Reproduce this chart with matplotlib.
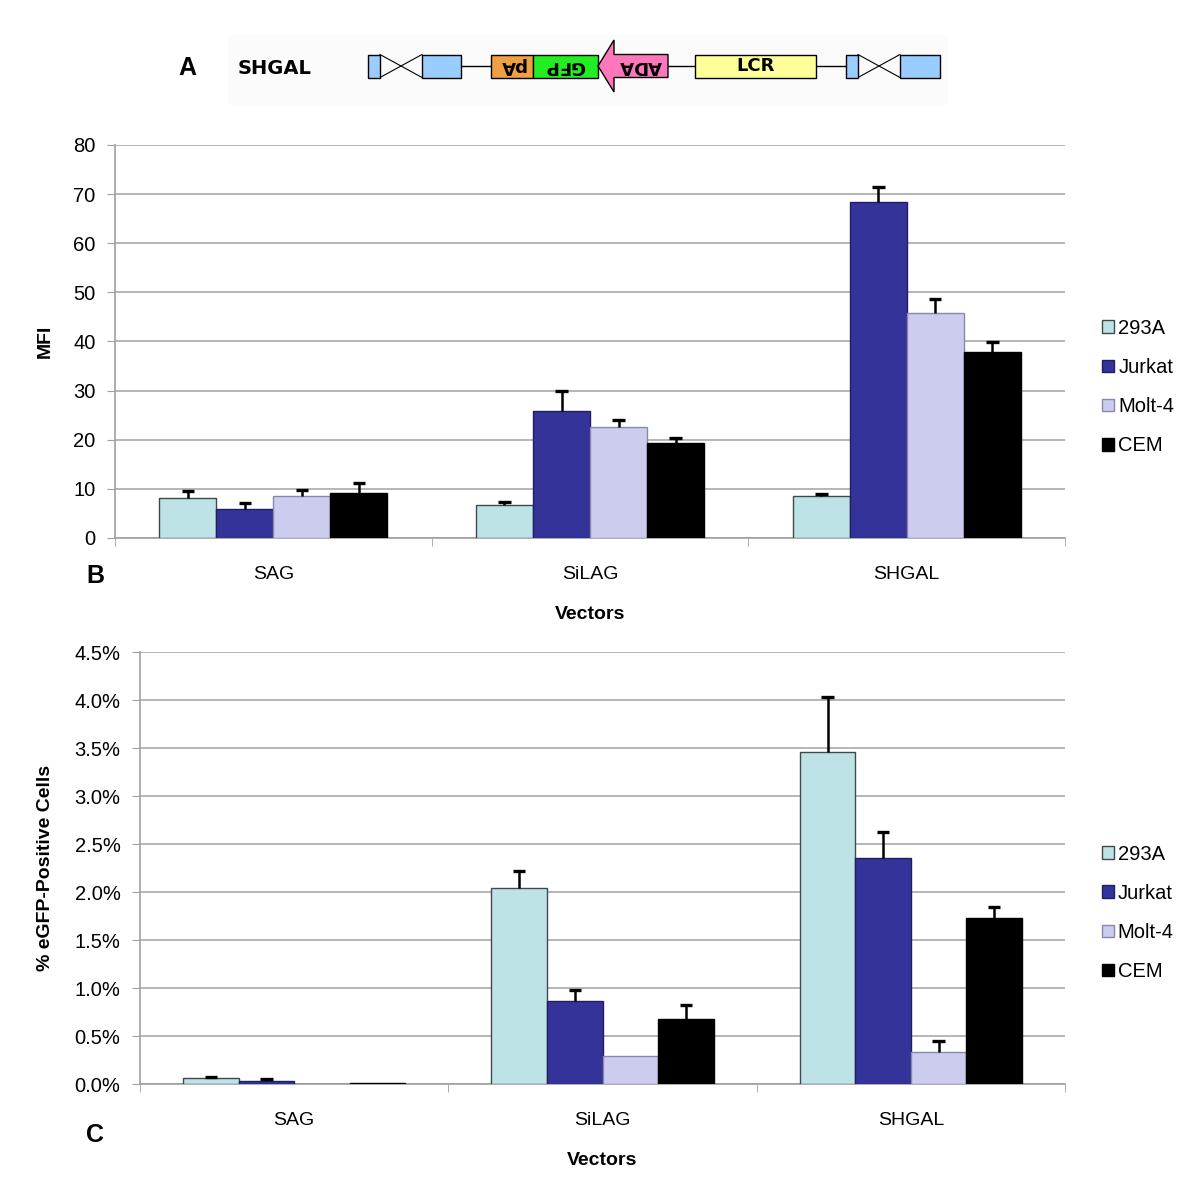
import matplotlib
matplotlib.use("Agg")
import matplotlib.pyplot as plt
import numpy as np
from matplotlib.patches import Rectangle, Polygon
from matplotlib.ticker import FixedLocator, PercentFormatter

plt.rcParams['font.family'] = ['Liberation Sans', 'DejaVu Sans']

vectors = ["SAG", "SiLAG", "SHGAL"]
cells = ["293A", "Jurkat", "Molt-4", "CEM"]
colors = ["#BDE3E6", "#333399", "#CCCCEE", "#000000"]
edges = ["#404848", "#202060", "#8888AA", "#000000"]

# Panel B: MFI (mean) and error (upper)
mfi = {
    "293A":   [8.1, 6.7, 8.6],
    "Jurkat": [5.9, 25.9, 68.4],
    "Molt-4": [8.5, 22.6, 45.8],
    "CEM":    [9.2, 19.3, 37.9],
}
mfi_err = {
    "293A":   [1.5, 0.6, 0.4],
    "Jurkat": [1.2, 4.0, 3.1],
    "Molt-4": [1.3, 1.4, 2.9],
    "CEM":    [2.0, 1.1, 2.0],
}
# Panel C: % eGFP positive (fraction)
pct = {
    "293A":   [0.0006, 0.0204, 0.0346],
    "Jurkat": [0.0003, 0.0086, 0.0235],
    "Molt-4": [0.0000, 0.0029, 0.0033],
    "CEM":    [0.0001, 0.0068, 0.0173],
}
pct_err = {
    "293A":   [0.0001, 0.0018, 0.0057],
    "Jurkat": [0.0002, 0.0012, 0.0027],
    "Molt-4": [0.0000, 0.0000, 0.0012],
    "CEM":    [0.0000, 0.0014, 0.0011],
}

fig = plt.figure(figsize=(12, 12), dpi=100)
fig.patch.set_facecolor("white")

def bar_panel(ax, vals, errs, ylim, yticks, ylabel, ylabelpad, fmt=None):
    x = np.arange(len(vectors))
    w = 0.18
    for i, c in enumerate(cells):
        pos = x + (i - 1.5) * w
        ax.bar(pos, vals[c], width=w, color=colors[i], edgecolor=edges[i],
               linewidth=1.0, zorder=3, label=c)
        v = np.array(vals[c]); e = np.array(errs[c])
        m = e > 0
        ax.vlines(pos[m], v[m], v[m] + e[m], color="black", linewidth=1.8, zorder=4)
        ax.hlines(v[m] + e[m], pos[m] - 0.02, pos[m] + 0.02, color="black", linewidth=2.4, zorder=4)
    ax.set_xlim(-0.5, len(vectors) - 0.5)
    ax.set_ylim(*ylim)
    ax.set_yticks(yticks)
    if fmt is not None:
        ax.yaxis.set_major_formatter(fmt)
    ax.yaxis.grid(True, color="#B0B0B0", linewidth=1.3, zorder=0)
    ax.set_axisbelow(True)
    for s in ["top", "right"]:
        ax.spines[s].set_visible(False)
    ax.spines["left"].set_color("#A0A0A0")
    ax.spines["bottom"].set_color("#A0A0A0")
    ax.spines["left"].set_linewidth(1.2)
    ax.spines["bottom"].set_linewidth(1.2)
    ax.set_xticks(x)
    ax.set_xticklabels(vectors, fontsize=14)
    ax.tick_params(axis="x", length=0, pad=20)
    ax.xaxis.set_minor_locator(FixedLocator([-0.5, 0.5, 1.5, 2.5]))
    ax.tick_params(axis="x", which="minor", length=6, color="#A0A0A0")
    ax.tick_params(axis="y", length=6, color="#A0A0A0", labelsize=14.5, pad=8)
    ax.set_xlabel("Vectors", fontsize=14, fontweight="bold", labelpad=17)
    ax.set_ylabel(ylabel, fontsize=14, fontweight="bold", labelpad=ylabelpad)
    return ax

axB = fig.add_axes([115/1200, 1-538/1200, (1065-115)/1200, (538-145)/1200])
bar_panel(axB, mfi, mfi_err, (0, 80), np.arange(0, 81, 10), "MFI", 14)
axB.legend(loc="center left", bbox_to_anchor=(1.02, 0.384), frameon=False,
           fontsize=14.5, handlelength=0.6, handleheight=0.6, handletextpad=0.2,
           labelspacing=1.0)

axC = fig.add_axes([140/1200, 1-1084/1200, (1065-140)/1200, (1084-652)/1200])
bar_panel(axC, pct, pct_err, (0, 0.045), np.arange(0, 0.0451, 0.005),
          "% eGFP-Positive Cells", 15, fmt=PercentFormatter(1.0, decimals=1))
axC.legend(loc="center left", bbox_to_anchor=(1.02, 0.396), frameon=False,
           fontsize=14.5, handlelength=0.6, handleheight=0.6, handletextpad=0.2,
           labelspacing=1.0)

fig.text(95/1200, 1-576/1200, "B", fontsize=18, fontweight="bold", ha="center", va="center")
fig.text(95/1200, 1-1135/1200, "C", fontsize=18, fontweight="bold", ha="center", va="center")

# Panel A: schematic
axA = fig.add_axes([0, 1-115/1200, 1, 115/1200])
axA.set_xlim(0, 1200)
axA.set_ylim(115, 0)
axA.axis("off")
axA.add_patch(Rectangle((228, 35), 720, 70, facecolor="#FBFBFB", edgecolor="none", zorder=0))
axA.text(187, 68, "A", fontsize=18, fontweight="bold", ha="center", va="center")
axA.text(275, 68, "SHGAL", fontsize=14, fontweight="bold", ha="center", va="center",
         family=["DejaVu Sans Condensed", "DejaVu Sans"])
yc = 66
h = 23
def box(x0, x1, fc, txt=None, rot=0):
    axA.add_patch(Rectangle((x0, yc - h/2), x1 - x0, h, facecolor=fc, edgecolor="black", linewidth=1.0, zorder=3))
    if txt:
        axA.text((x0 + x1)/2, yc, txt, fontsize=13, fontweight="bold", ha="center", va="center",
                 rotation=rot, zorder=4, family=["DejaVu Sans Condensed", "DejaVu Sans"])
def line(x0, x1):
    axA.plot([x0, x1], [yc, yc], color="black", linewidth=1.0, zorder=2)
def ltr(x0, x1, x2, x3):
    box(x0, x1, "#99CCFF")
    axA.plot([x1, x2], [yc - h/2, yc + h/2], color="black", linewidth=0.8, zorder=2)
    axA.plot([x1, x2], [yc + h/2, yc - h/2], color="black", linewidth=0.8, zorder=2)
    box(x2, x3, "#99CCFF")
ltr(368, 380, 422, 461)
line(461, 491)
box(491, 533, "#F0A040", "pA", rot=180)
box(533, 598, "#22EE22", "GFP", rot=180)
axA.add_patch(Polygon([(598, yc), (614, yc - 26), (614, yc - h/2), (668, yc - h/2),
                       (668, yc + h/2), (614, yc + h/2), (614, yc + 26)],
                      closed=True, facecolor="#FF77BB", edgecolor="black", linewidth=1.0, zorder=3))
axA.text(641, yc, "ADA", fontsize=13, fontweight="bold", ha="center", va="center", rotation=180,
         zorder=4, family=["DejaVu Sans Condensed", "DejaVu Sans"])
line(668, 695)
box(695, 816, "#FFFF99", "LCR")
line(816, 846)
ltr(846, 858, 900, 940)

fig.savefig("out.png", dpi=100, facecolor="white")
